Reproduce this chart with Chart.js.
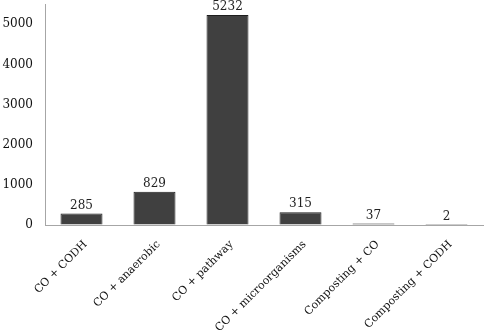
<!DOCTYPE html>
<html>
<head>
<meta charset="utf-8">
<script src="https://cdn.jsdelivr.net/npm/chart.js@4/dist/chart.umd.min.js"></script>
<style>
html,body{margin:0;padding:0;background:#fff;}
#wrap{width:484px;height:333px;}
</style>
</head>
<body>
<div id="wrap"><canvas id="c" width="484" height="333"></canvas></div>
<script>
const categories = ["CO + CODH", "CO + anaerobic", "CO + pathway", "CO + microorganisms", "Composting + CO", "Composting + CODH"];
const values = [285, 829, 5232, 315, 37, 2];
const yTicks = [0, 1000, 2000, 3000, 4000, 5000];

const FONT = "'DejaVu Serif', 'Liberation Serif', serif";

const valueLabels = {
  id: 'valueLabels',
  afterDatasetsDraw(chart) {
    const ctx = chart.ctx;
    const meta = chart.getDatasetMeta(0);
    ctx.save();
    ctx.font = "12px " + FONT;
    ctx.fillStyle = "#222";
    ctx.textAlign = "center";
    ctx.textBaseline = "bottom";
    meta.data.forEach((bar, i) => {
      ctx.fillText(String(values[i]), bar.x, bar.y - 2);
    });
    ctx.restore();
  }
};

new Chart(document.getElementById('c'), {
  type: 'bar',
  data: {
    labels: categories,
    datasets: [{
      data: values,
      backgroundColor: '#404040',
      borderColor: '#1e1e1e',
      borderWidth: 1,
      barPercentage: 0.575,
      categoryPercentage: 1.0
    }]
  },
  options: {
    responsive: false,
    animation: false,
    devicePixelRatio: 1,
    layout: { padding: { top: 4, right: 1, left: 0, bottom: 0 } },
    plugins: { legend: { display: false }, tooltip: { enabled: false } },
    scales: {
      x: {
        afterFit(axis) { axis.height = 108; axis.paddingLeft = 0; axis.paddingRight = 0; },
        grid: { display: false, drawTicks: false },
        border: { display: true, color: '#a6a6a6', width: 1 },
        ticks: {
          maxRotation: 45, minRotation: 45,
          color: '#111',
          font: { family: FONT, size: 11 },
          padding: 13,
          labelOffset: 4
        }
      },
      y: {
        min: 0, max: 5500,
        afterBuildTicks(axis) { axis.ticks = yTicks.map(v => ({ value: v })); },
        afterFit(axis) { axis.width = 45; },
        grid: { display: true, drawOnChartArea: false, drawTicks: true, tickLength: 12, color: 'rgba(0,0,0,0)' },
        border: { display: true, color: '#a6a6a6', width: 1 },
        ticks: {
          color: '#111',
          font: { family: FONT, size: 12, lineHeight: 0.7 },
          padding: 0,
          callback: (v) => String(v)
        }
      }
    }
  },
  plugins: [valueLabels]
});
</script>
</body>
</html>
